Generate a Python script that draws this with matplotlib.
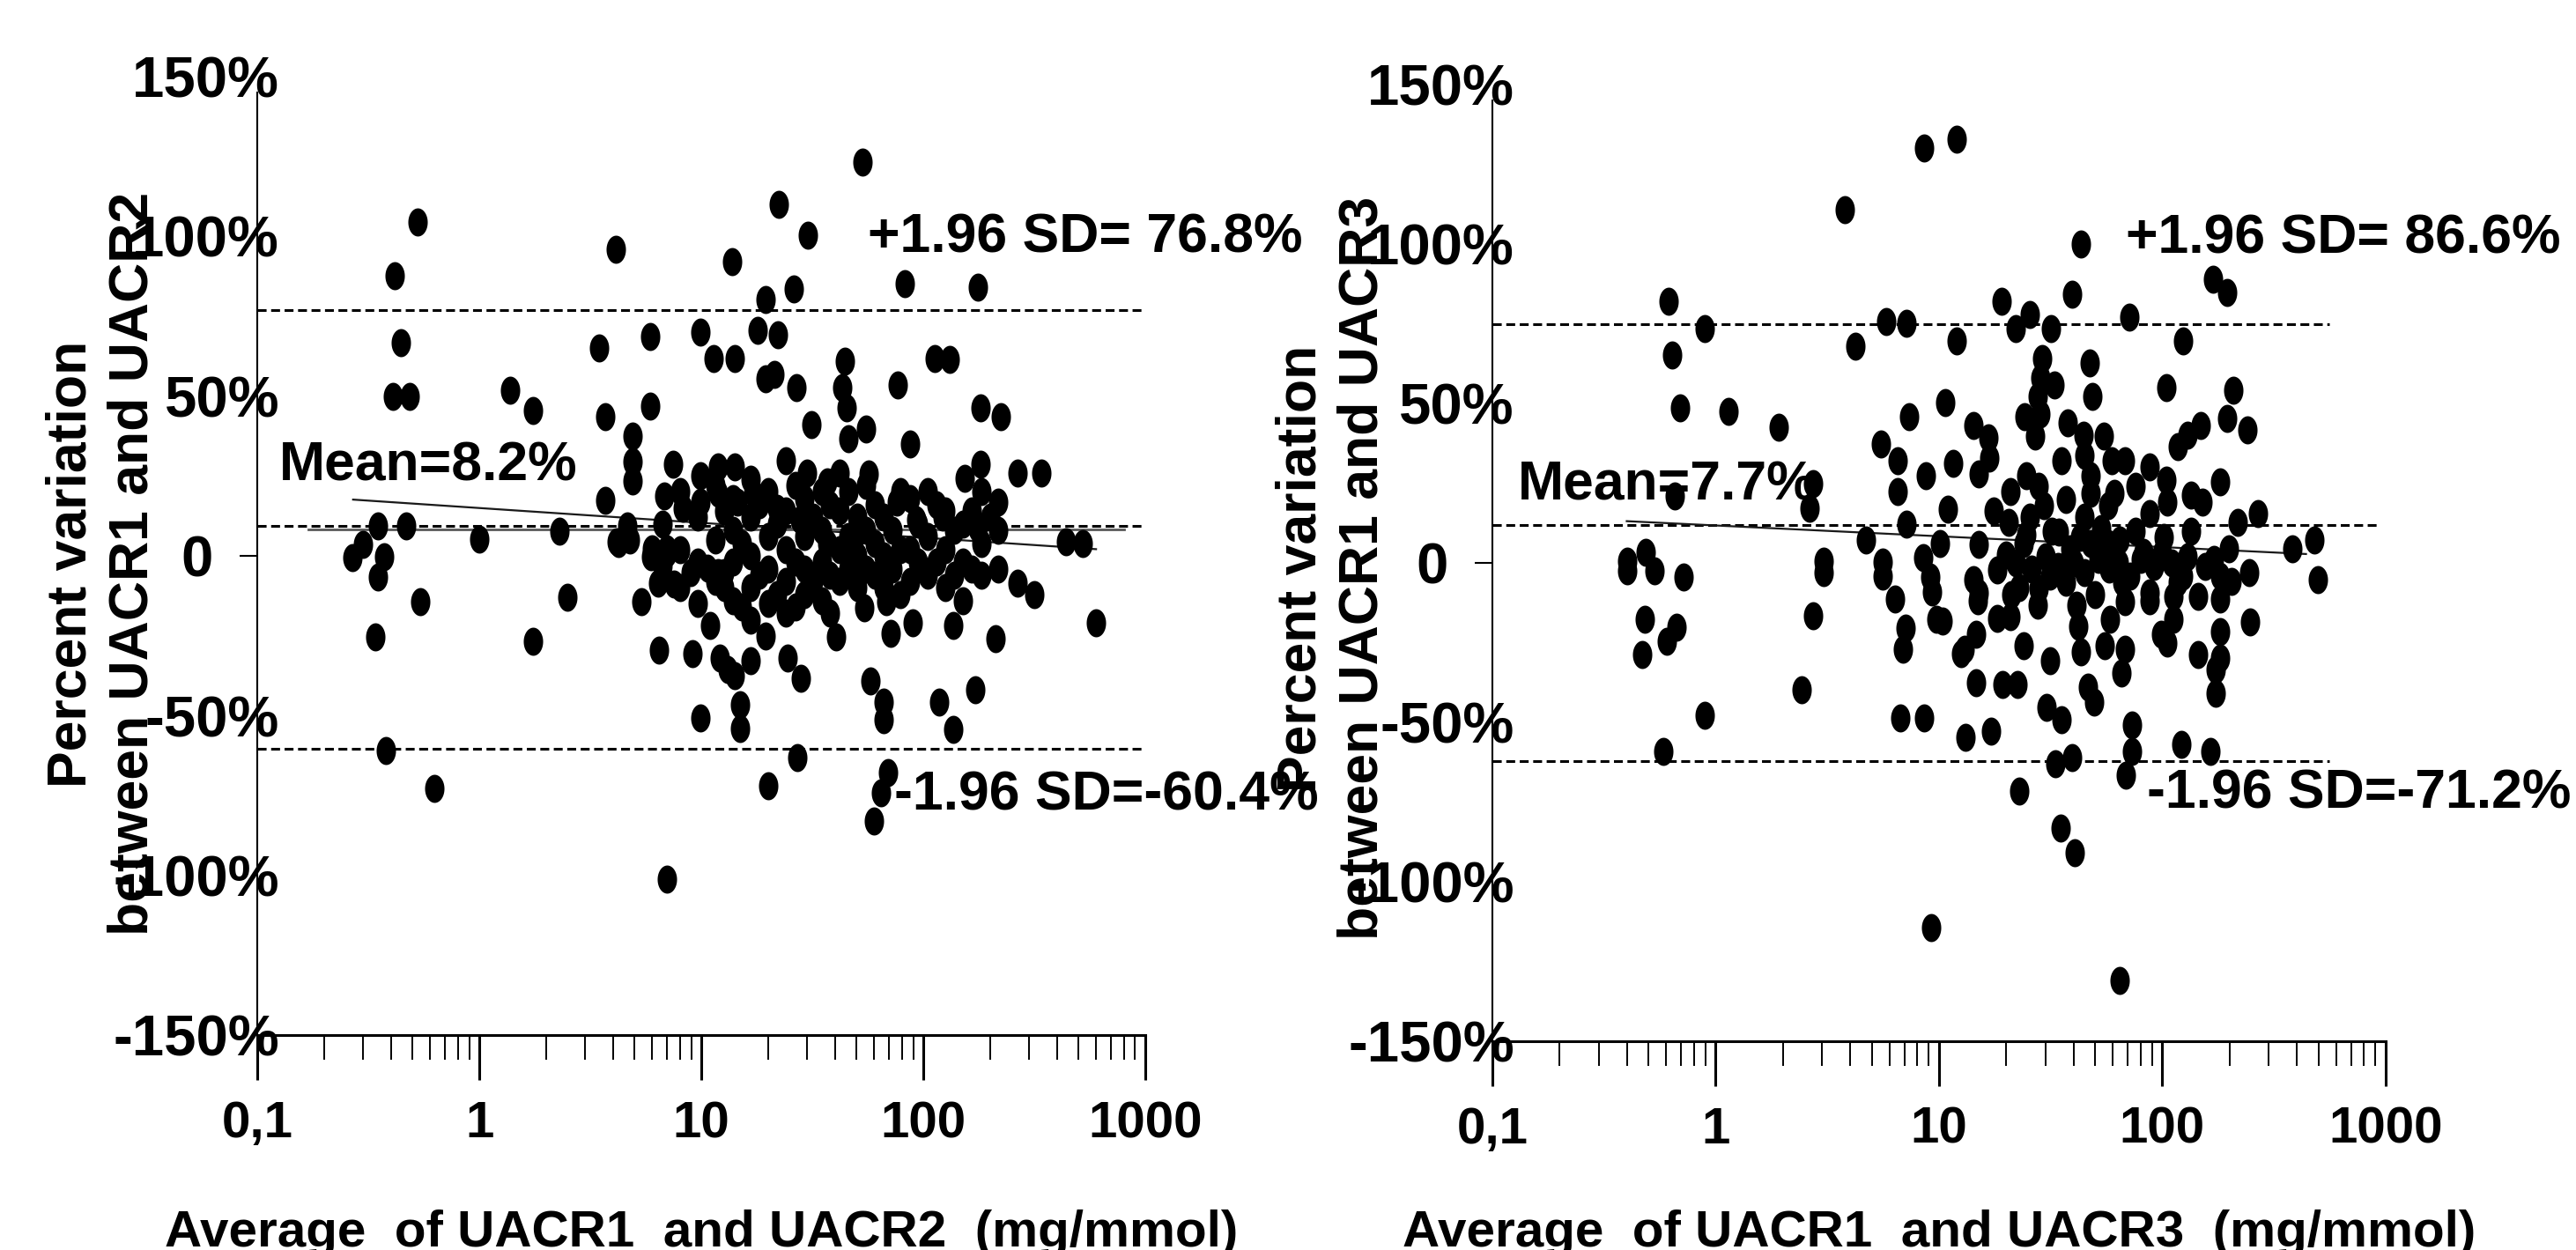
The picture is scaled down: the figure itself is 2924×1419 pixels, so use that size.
import numpy as np
import matplotlib
matplotlib.use('Agg')
import matplotlib.pyplot as plt
import matplotlib.transforms as mtransforms
from matplotlib.path import Path
from matplotlib import font_manager
from matplotlib.ticker import FixedLocator, LogLocator, NullFormatter

try:
    font_manager.findfont('Liberation Sans Narrow', fallback_to_default=False)
    NARROW = 'Liberation Sans Narrow'
except ValueError:
    NARROW = 'Liberation Sans'
FONT = 'Liberation Sans'

# ---- data (x = mg/mmol, y = % variation) ----
left_pts = [
    (0.527, 104.5), (0.416, 87.7), (4.12, 95.8), (13.8, 92.1), (0.442, 66.6),
    (0.407, 49.9), (0.484, 49.9), (1.37, 51.7), (1.75, 45.5), (3.46, 65.0),
    (5.86, 68.5), (9.94, 70.1), (11.4, 61.8), (3.68, 43.6), (5.86, 46.8),
    (4.92, 37.5), (4.92, 29.5), (4.92, 23.5), (7.43, 28.7), (3.68, 17.3),
    (6.78, 18.7), (8.27, 15.0), (9.94, 25.1), (9.94, 16.8), (11.9, 27.8),
    (0.349, 9.4), (0.467, 9.4), (1.0, 5.3), (2.29, 7.6), (4.63, 9.4),
    (4.22, 3.9), (11.9, 19.6), (5.98, 2.2), (7.0, 2.2),
    (0.30, 3.5), (0.268, -0.6), (0.371, -0.2), (0.349, -6.6), (0.544, -14.4),
    (0.341, -25.3), (2.50, -12.9), (1.75, -26.8), (4.16, 4.4), (4.77, 4.9),
    (5.39, -14.4), (5.91, -0.2), (7.0, 0.7), (6.38, -8.5), (7.55, -8.9),
    (8.93, -5.2), (10.7, -3.9), (11.9, -5.2), (11.0, -21.8), (6.42, -29.6),
    (9.12, -30.5), (12.1, -31.9), (9.94, -50.7), (0.38, -60.8), (0.628, -72.7),
    (7.0, -101.0),
    (53.1, 123.1), (22.3, 109.8), (30.3, 100.2), (26.2, 83.4), (19.5, 80.2),
    (82.5, 85.2), (176, 84.1), (17.9, 70.5), (22.2, 69.1), (14.1, 61.8),
    (19.5, 55.4), (21.4, 56.8), (26.9, 52.6), (44.5, 60.9), (43.1, 52.6),
    (45.2, 46.2), (76.4, 53.4), (113, 61.8), (132, 61.4), (31.3, 41.1),
    (87.1, 34.9), (181, 46.2), (223, 43.6), (55.1, 39.8), (45.8, 36.6),
    (266, 26.0), (340, 26.0), (24.1, 29.7), (14.1, 27.8), (29.9, 26.0),
    (37.0, 23.2), (56.8, 25.5), (181, 28.7), (153, 24.2), (218, 16.8),
    (76, 16.8), (22.0, 15.0), (27.7, 11.3), (17.2, 19.6), (14.6, 16.8),
    (441, 4.4), (521, 3.9), (92.7, 11.3), (122, 12.2), (176, 8.5),
    (48.8, 5.8), (37, 3.9),
    (19.5, -25.0), (40.6, -25.4), (71.4, -24.1), (54.2, -16.3), (67.8, -14.4),
    (89.8, -20.9), (136, -21.8), (211, -25.9), (266, -8.5), (315, -12.1),
    (598, -20.9), (16.7, -32.8), (14.1, -37.4), (15.0, -46.6), (15.0, -53.9),
    (24.5, -31.9), (28.1, -38.3), (57.7, -39.2), (66.2, -45.6), (66.5, -51.2),
    (118, -45.6), (136, -54.4), (171, -41.8), (13.1, -35.5), (12.7, -5.2),
    (27.1, -63.1), (20.1, -71.8), (69.3, -67.7), (64.2, -74.1), (60.1, -82.8),
]

# the solid black core of the left cloud
left_core = [
    (6.7, 10), (6.7, -3), (8.0, 20), (8.0, 2), (8.0, -10), (9.6, 12), (9.6, -2),
    (9.6, -15), (11.6, 22), (11.6, 5), (11.6, -8), (13.9, 18), (13.9, 8),
    (13.9, -2), (13.9, -14), (16.7, 24), (16.7, 12), (16.7, 0), (16.7, -10),
    (16.7, -20), (20.1, 20), (20.1, 6), (20.1, -4), (20.1, -15), (24.1, 14),
    (24.1, 2), (24.1, -8), (24.1, -18), (29, 18), (29, 6), (29, -4), (29, -12),
    (34.8, 20), (34.8, 8), (34.8, -2), (34.8, -14), (41.8, 26), (41.8, 14),
    (41.8, 2), (41.8, -8), (50.2, 12), (50.2, 0), (50.2, -10), (60.4, 16),
    (60.4, 4), (60.4, -6), (72.6, 8), (72.6, -4), (87.1, 18), (87.1, 2),
    (87.1, -8), (105, 20), (105, 6), (105, -6), (126, 14), (126, 2), (126, -10),
    (151, 10), (151, -2), (151, -14), (182, 20), (182, 4), (182, -6),
    (218, 8), (218, -4),
    (12.7, 14), (12.7, -10), (15.2, 4), (15.2, -16), (18.3, 16), (18.3, -6),
    (22, 10), (22, -12), (26.5, 22), (26.5, -2), (26.5, -16), (31.8, 12),
    (31.8, -8), (38, 16), (38, -6), (38, -18), (46, 20), (46, 6), (46, -4),
    (55, 22), (55, 8), (55, -4), (66, 12), (66, 0), (66, -10), (79, 20),
    (79, 2), (79, -12), (95, 10), (95, -2), (115, 16), (115, -2), (138, 8),
    (138, -6), (166, 14), (166, -4), (200, 12),
]

right_pts = [
    (8.59, 130.0), (12.0, 132.8), (3.79, 110.7), (0.617, 82.1), (0.897, 73.4),
    (0.637, 65.3), (0.691, 48.7), (1.14, 47.6), (1.91, 42.5), (4.21, 68.1),
    (5.78, 75.7), (7.14, 75.2), (12.0, 69.7), (19.0, 82.1), (10.7, 50.4),
    (7.33, 45.9), (5.49, 37.2), (6.53, 32.0), (8.73, 27.5), (11.6, 31.2),
    (6.53, 22.3), (11.0, 16.8), (14.3, 43.0), (16.6, 39.3), (16.8, 32.9),
    (15.1, 27.8), (2.72, 25.0), (2.64, 17.2), (0.656, 20.9), (7.16, 12.2),
    (4.72, 7.1), (10.1, 6.2), (15.1, 5.7), (17.6, 16.3), (0.488, 3.4),
    (0.40, 0.6), (3.04, 0.6), (5.6, 0.3), (8.5, 1.7),
    (0.40, -2.6), (0.533, -2.6), (0.716, -4.4), (0.483, -17.8), (0.469, -28.8),
    (0.670, -20.1), (0.603, -24.7), (0.581, -59.2), (0.897, -47.7), (3.04, -3.0),
    (2.72, -16.7), (2.43, -39.7), (5.61, -4.0), (6.33, -11.3), (7.1, -20.5),
    (6.89, -27.0), (9.1, -4.4), (9.33, -9.0), (9.76, -17.8), (14.3, -5.3),
    (15.1, -9.5), (18.2, -2.1), (18.2, -17.3), (14.7, -22.4), (12.6, -28.4),
    (14.7, -37.6), (19.3, -38.0), (6.69, -48.6), (8.59, -48.6), (13.1, -54.6),
    (17.1, -52.8), (9.25, -114.4),
    (43.2, 99.9), (39.5, 84.2), (168, 89.0), (196, 84.9), (22.1, 73.4),
    (25.5, 78.0), (31.8, 73.4), (29.0, 64.2), (28.5, 58.0), (71.0, 77.1),
    (124, 69.7), (47.1, 62.8), (48.5, 52.2), (33.0, 55.9), (27.7, 52.2),
    (104, 55.0), (208, 54.1), (196, 45.3), (240, 41.6), (24.2, 45.8),
    (28.5, 46.7), (26.9, 39.8), (37.6, 43.9), (35.3, 32.0), (44.4, 40.2),
    (45.0, 33.8), (54.8, 39.8), (59.2, 32.0), (67.8, 32.0), (24.6, 27.3),
    (20.8, 22.3), (47.8, 27.3), (47.8, 21.8), (60.9, 21.8), (104, 26.0),
    (117, 36.5), (130, 40.2), (149, 43.0), (181, 25.5), (151, 19.1),
    (134, 21.4), (105, 19.1), (20.5, 12.6), (25.4, 14.4), (29.5, 18.1),
    (34.3, 9.8), (45.0, 14.4), (53.2, 10.8), (87.7, 15.4), (269, 15.4),
    (217, 12.6), (478, 7.1), (381, 4.3), (199, 4.3), (19.9, 2.5),
    (24.6, 8.9), (64.7, 7.1), (82.4, 3.4), (38.7, 4.3), (47.8, 6.2),
    (497, -5.3), (247, -18.6), (10.4, -18.2), (14.9, -11.8), (20.8, -16.8),
    (13.0, -27.0), (22.4, -38.0), (23.9, -26.0), (22.8, -7.6), (27.7, -13.2),
    (31.3, -30.7), (30.4, -45.4), (35.3, -49.1), (43.1, -27.9), (46.4, -38.9),
    (49.4, -43.5), (41.1, -13.2), (31.3, -4.0), (58.2, -17.8), (67.8, -12.2),
    (67.8, -27.0), (65.8, -34.4), (73.1, -50.9), (73.1, -59.2), (68.9, -66.6),
    (39.3, -61.0), (33.3, -62.9), (22.8, -71.6), (35.1, -83.1), (40.6, -90.9),
    (64.7, -131.0), (122, -56.9), (164, -59.2), (173, -40.8), (173, -33.4),
    (144, -28.8), (181, -29.7), (105, -25.1), (99, -22.4), (112, -17.8),
    (112, -10.4), (87.7, -9.5), (144, -10.4), (181, -21.5), (181, -11.3),
    (181, -4.0), (205, -5.8), (245, -3.0), (124, -4.0),
]

# the solid black core of the right cloud
right_core = [
    (22, 0), (26, -2), (30, 2), (34, -1), (40, 0), (45, -3), (52, 1), (58, -2),
    (64, 0), (72, -4), (80, 1), (92, -1), (100, 3), (110, 0), (130, 2),
    (155, -1), (170, 1),
    (21, -10), (24, 6), (28, -8), (32, 10), (37, -6), (43, 8), (50, -10),
    (57, 6), (66, -6), (76, 10), (88, -12), (101, 8), (117, -6), (135, 10),
    (28, 24), (37, 20), (57, 18), (76, 24), (88, 30), (42, -20), (55, -26),
]

# reference lines: (y level, x end)
left_hlines = [(76.8, 1000), (9.5, 1000), (-60.4, 1000)]
right_hlines = [(75.0, 560), (12.0, 950), (-62.2, 560)]
left_mean_solid_x = [0.17, 800]
left_mean_solid_y = [8.2, 8.2]
left_reg_x = [0.27, 600]
left_reg_y = [17.6, 2.1]
right_reg_x = [0.40, 440]
right_reg_y = [13.1, 2.8]

left_texts = [('+1.96 SD= 76.8%', 56, 94.8), ('Mean=8.2%', 0.125, 23.7),
              ('-1.96 SD=-60.4%', 73.9, -79.6)]
right_texts = [('+1.96 SD= 86.6%', 68.6, 97.2), ('Mean=7.7%', 0.130, 19.9),
               ('-1.96 SD=-71.2%', 85.3, -76.8)]

xticks = [0.1, 1, 10, 100, 1000]
xticklabels = ['0,1', '1', '10', '100', '1000']
yticks = [-150, -100, -50, 0, 50, 100, 150]
yticklabels = ['-150%', '-100%', '-50%', '0', '50%', '100%', '150%']

# vertically stretched dot, as in the scan
t = np.linspace(0, 2 * np.pi, 64)
dot = Path(np.column_stack([0.69 * np.cos(t), np.sin(t)]), closed=True)

fig = plt.figure(figsize=(29.24, 14.19), dpi=100)
ax1 = fig.add_axes([0.0999, 0.1716, 0.3447, 0.7674])
ax2 = fig.add_axes([0.5793, 0.1670, 0.3468, 0.7653])

dash = (0, (3.3, 1.7))


def setup(ax):
    ax.set_xscale('log')
    ax.set_xlim(0.1, 1000)
    ax.set_ylim(-150, 150)
    ax.spines['top'].set_visible(False)
    ax.spines['right'].set_visible(False)
    ax.spines['left'].set_linewidth(1.5)
    ax.spines['left'].set_bounds(-150, 145)
    ax.spines['bottom'].set_linewidth(2.2)
    ax.xaxis.set_major_locator(FixedLocator(xticks))
    ax.xaxis.set_minor_locator(LogLocator(base=10, subs=np.arange(2, 10)))
    ax.xaxis.set_minor_formatter(NullFormatter())
    ax.set_xticklabels(xticklabels, fontfamily=FONT, fontweight='bold', fontsize=42)
    ax.tick_params(axis='x', which='major', direction='out', length=37, width=2.2, pad=16)
    ax.tick_params(axis='x', which='minor', direction='out', length=20, width=1.4)
    ax.yaxis.set_major_locator(FixedLocator(yticks))
    ax.tick_params(axis='y', which='major', direction='out', length=14.4, width=1.5, pad=21.6)
    ax.set_yticklabels(yticklabels, fontfamily=NARROW, fontweight='bold', fontsize=47)
    shift = mtransforms.ScaledTranslation(0.75, 0, fig.dpi_scale_trans)
    for tick, val in zip(ax.yaxis.get_major_ticks(), yticks):
        if val != 0:
            tick.tick1line.set_visible(False)
            tick.label1.set_transform(tick.label1.get_transform() + shift)


for ax, pts, hl, reg_x, reg_y, texts in [
        (ax1, left_pts + left_core, left_hlines, left_reg_x, left_reg_y, left_texts),
        (ax2, right_pts + right_core, right_hlines, right_reg_x, right_reg_y, right_texts)]:
    setup(ax)
    arr = np.array(pts)
    for yv, xend in hl:
        ax.plot([0.1, xend], [yv, yv], color='black', lw=2.2, linestyle=dash, zorder=2)
    ax.plot(reg_x, reg_y, color='0.1', lw=1.6, zorder=3)
    ax.plot(arr[:, 0], arr[:, 1], linestyle='none', marker=dot, markersize=23,
            markerfacecolor='black', markeredgewidth=0, zorder=4, clip_on=False)
    for s, tx, ty in texts:
        ax.text(tx, ty, s, fontfamily=FONT, fontweight='bold', fontsize=45,
                ha='left', va='baseline', zorder=5)

ax1.plot(left_mean_solid_x, left_mean_solid_y, color='0.35', lw=2.0, zorder=3)

# axis titles
fig.text(0.0397, 0.549, 'Percent variation\nbetween UACR1 and UACR2', rotation=90,
         ha='center', va='center', multialignment='center', linespacing=1.25,
         fontfamily=FONT, fontweight='bold', fontsize=45)
fig.text(0.5171, 0.5455, 'Percent variation\nbetween UACR1 and UACR3', rotation=90,
         ha='center', va='center', multialignment='center', linespacing=1.25,
         fontfamily=FONT, fontweight='bold', fontsize=45)
fig.text(0.0999 + 0.3447 / 2, 0.003, 'Average  of UACR1  and UACR2  (mg/mmol)',
         ha='center', va='baseline', fontfamily=FONT, fontweight='bold', fontsize=42)
fig.text(0.5793 + 0.3468 / 2, 0.003, 'Average  of UACR1  and UACR3  (mg/mmol)',
         ha='center', va='baseline', fontfamily=FONT, fontweight='bold', fontsize=42)

fig.savefig('out.png', dpi=100)
